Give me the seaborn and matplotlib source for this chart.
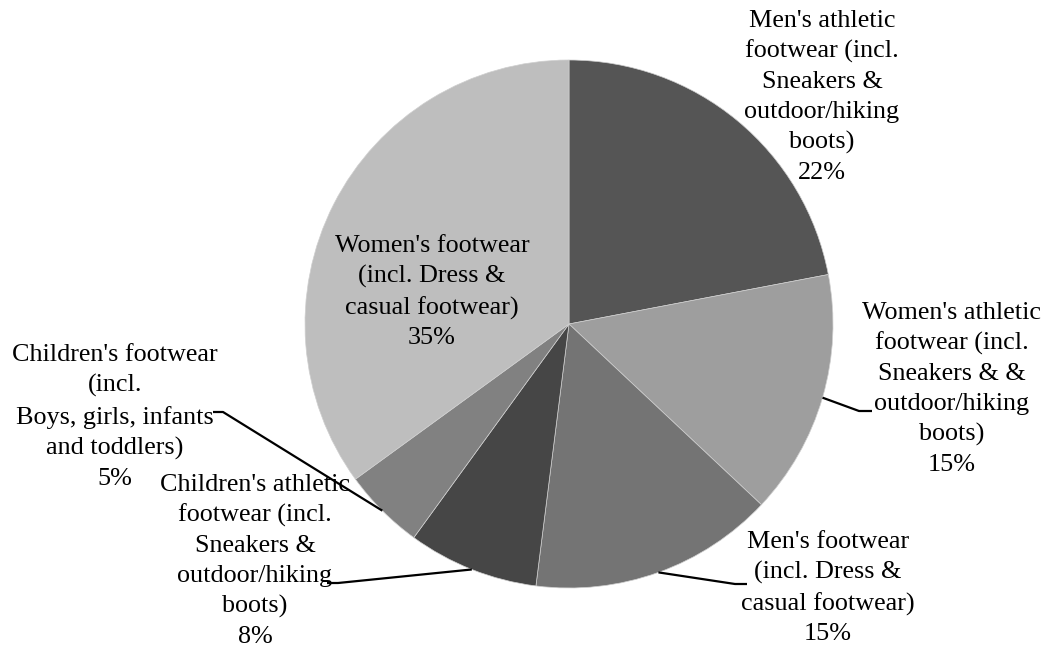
import numpy as np
import matplotlib
matplotlib.use("Agg")
import matplotlib.pyplot as plt
import seaborn as sns

# Footwear market share by segment
categories = [
    "Men's athletic\nfootwear (incl.\nSneakers &\noutdoor/hiking\nboots)",
    "Women's athletic\nfootwear (incl.\nSneakers & &\noutdoor/hiking\nboots)",
    "Men's footwear\n(incl. Dress &\ncasual footwear)",
    "Children's athletic\nfootwear (incl.\nSneakers &\noutdoor/hiking\nboots)",
    "Children's footwear\n(incl.\nBoys, girls, infants\nand toddlers)",
    "Women's footwear\n(incl. Dress &\ncasual footwear)",
]
shares = [22, 15, 15, 8, 5, 35]
colors = ["#555555", "#9e9e9e", "#747474", "#464646", "#818181", "#bebebe"]

# label anchor (x, y from top) and leader-line elbow points
label_pos = [(822, 97), (952, 389), (828, 588), (255, 561), (115, 417), (432, 292)]
leaders = {
    1: [(859, 411), (872, 411)],
    2: [(735, 584), (747, 584)],
    3: [(338, 583), (327, 583)],
    4: [(223, 412), (213, 412)],
}

W, H = 1048, 648
sns.set_theme(style="white")
plt.rcParams["font.family"] = ["Liberation Serif", "DejaVu Serif"]

fig = plt.figure(figsize=(W / 100, H / 100), dpi=100)
ax = fig.add_axes([0, 0, 1, 1])

cx, cy, r = 569, 324, 264
wedges, _ = ax.pie(
    shares,
    colors=colors,
    startangle=90,
    counterclock=False,
    center=(cx, H - cy),
    radius=r,
    wedgeprops=dict(edgecolor="#cfcfcf", linewidth=0.5),
)
ax.set_xlim(0, W)
ax.set_ylim(0, H)
ax.set_aspect("equal")
ax.axis("off")

for i, (w, lab, v) in enumerate(zip(wedges, categories, shares)):
    x, y = label_pos[i]
    ax.text(x, H - y, f"{lab}\n{v}%", ha="center", va="center",
            multialignment="center", fontsize=18.8, color="black",
            linespacing=1.46)
    if i in leaders:
        mid = np.deg2rad((w.theta1 + w.theta2) / 2)
        sx = cx + r * np.cos(mid)
        sy = (H - cy) + r * np.sin(mid)
        pts = [(sx, sy)] + [(px, H - py) for px, py in leaders[i]]
        xs, ys = zip(*pts)
        ax.plot(xs, ys, color="black", lw=1.6, solid_capstyle="butt")

fig.savefig("out.png", dpi=100, facecolor="white")
